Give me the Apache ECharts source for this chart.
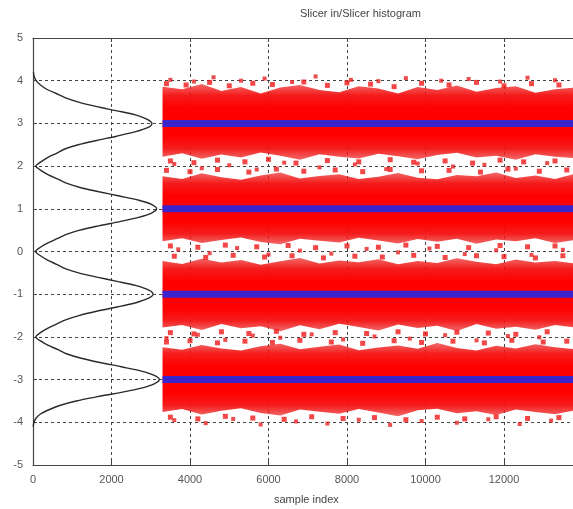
<!DOCTYPE html>
<html>
<head>
<meta charset="utf-8">
<script src="https://cdn.jsdelivr.net/npm/echarts@6/dist/echarts.min.js"></script>
<style>
  html, body { margin: 0; padding: 0; background: #fff; }
  #chart { width: 573px; height: 509px; }
</style>
</head>
<body>
<div id="chart"></div>
<script>
// symbol levels and where the received samples start
var levels = [3, 1, -1, -3];
var sampleStart = 3300;
var sampleEnd = 13800;

// band edges, read every 500 samples
var bandX = [3300, 3800, 4300, 4800, 5300, 5800, 6300, 6800, 7300, 7800, 8300,
             8800, 9300, 9800, 10300, 10800, 11300, 11800, 12300, 12800, 13300, 13800];
var band3Hi = [3.86, 3.8, 3.92, 3.76, 3.85, 3.7, 3.84, 3.9, 3.78, 3.73, 3.87, 3.82, 3.7, 3.85, 3.78, 3.89, 3.74, 3.83, 3.87, 3.72, 3.8, 3.84];
var band3Lo = [2.22, 2.3, 2.17, 2.27, 2.2, 2.32, 2.24, 2.15, 2.28, 2.22, 2.18, 2.29, 2.23, 2.16, 2.26, 2.31, 2.2, 2.24, 2.15, 2.28, 2.22, 2.19];
var band1Hi = [1.76, 1.7, 1.83, 1.74, 1.68, 1.78, 1.85, 1.71, 1.77, 1.81, 1.7, 1.75, 1.84, 1.73, 1.69, 1.79, 1.76, 1.85, 1.72, 1.78, 1.7, 1.82];
var band1Lo = [0.24, 0.31, 0.2, 0.27, 0.33, 0.22, 0.17, 0.3, 0.25, 0.21, 0.32, 0.26, 0.19, 0.29, 0.23, 0.3, 0.18, 0.28, 0.24, 0.31, 0.2, 0.27];
var bandM1Hi = [-0.22, -0.29, -0.17, -0.26, -0.2, -0.31, -0.23, -0.15, -0.28, -0.21, -0.25, -0.18, -0.3, -0.22, -0.27, -0.16, -0.24, -0.3, -0.19, -0.26, -0.22, -0.28];
var bandM1Lo = [-1.78, -1.72, -1.84, -1.7, -1.8, -1.75, -1.87, -1.73, -1.82, -1.69, -1.77, -1.85, -1.71, -1.79, -1.74, -1.86, -1.7, -1.81, -1.76, -1.83, -1.72, -1.78];
var bandM3Hi = [-2.24, -2.3, -2.19, -2.27, -2.32, -2.22, -2.16, -2.29, -2.23, -2.18, -2.31, -2.25, -2.2, -2.28, -2.14, -2.26, -2.32, -2.21, -2.27, -2.17, -2.24, -2.29];
var bandM3Lo = [-3.76, -3.69, -3.82, -3.73, -3.67, -3.78, -3.84, -3.7, -3.75, -3.8, -3.69, -3.77, -3.86, -3.72, -3.68, -3.79, -3.74, -3.83, -3.7, -3.76, -3.81, -3.72];

// stray samples between the bands
var strays = [
  [3500, 4.02], [4100, 3.98], [4600, 4.08], [5300, 4.0], [5900, 4.05], [6600, 3.97], [7200, 4.1], [8100, 4.02],
  [8800, 3.99], [9500, 4.06], [10400, 4.0], [11100, 4.04], [11900, 3.98], [12600, 4.07], [13300, 4.01],
  [3600, 2.05], [4300, 1.95], [5000, 2.02], [5700, 1.92], [6400, 2.08], [7300, 1.97], [8200, 2.04], [9000, 1.93],
  [9800, 2.06], [10700, 1.99], [11500, 2.03], [12300, 1.94], [13100, 2.07],
  [3700, 0.05], [4500, -0.04], [5200, 0.08], [6000, -0.07], [6800, 0.02], [7600, -0.05], [8500, 0.06], [9300, -0.02],
  [10100, 0.07], [11000, -0.06], [11800, 0.03], [12700, -0.08], [13500, 0.04],
  [3400, -2.03], [4200, -1.95], [4900, -2.07], [5600, -1.97], [6300, -2.02], [7100, -1.94], [7900, -2.06], [8700, -1.99],
  [9600, -2.04], [10500, -1.96], [11300, -2.08], [12100, -1.98], [12900, -2.01],
  [3600, -3.95], [4400, -4.02], [5100, -3.92], [5800, -4.05], [6700, -3.98], [7500, -4.03], [8300, -3.94], [9100, -4.06],
  [9900, -3.97], [10800, -4.01], [11600, -3.93], [12400, -4.04], [13200, -3.96]
];

// samples just outside the band edges
var edgeSamples = [
  [3400, 3.93], [3900, 3.9], [4500, 3.96], [5000, 3.88], [5600, 3.94], [6100, 3.91], [6900, 3.97], [7500, 3.89],
  [8000, 3.95], [8600, 3.92], [9200, 3.86], [9900, 3.94], [10600, 3.9], [11300, 3.96], [12000, 3.88], [12700, 3.93], [13400, 3.9],
  [3500, 2.12], [4100, 2.08], [4700, 2.14], [5400, 2.1], [6000, 2.16], [6700, 2.07], [7500, 2.13], [8300, 2.1],
  [9100, 2.15], [9700, 2.09], [10500, 2.12], [11200, 2.07], [11900, 2.14], [12500, 2.1], [13300, 2.12],
  [3400, 1.9], [4000, 1.87], [4700, 1.92], [5500, 1.86], [6200, 1.93], [6900, 1.88], [7700, 1.91], [8400, 1.87],
  [9100, 1.92], [9900, 1.89], [10600, 1.9], [11400, 1.86], [12100, 1.93], [12900, 1.88], [13600, 1.91],
  [3500, 0.13], [4200, 0.1], [4900, 0.15], [5700, 0.11], [6500, 0.14], [7200, 0.09], [8000, 0.13], [8800, 0.1],
  [9500, 0.15], [10300, 0.12], [11100, 0.09], [11900, 0.14], [12600, 0.11], [13300, 0.13],
  [3600, -0.11], [4400, -0.14], [5100, -0.09], [5900, -0.13], [6600, -0.1], [7400, -0.15], [8200, -0.11], [8900, -0.13],
  [9700, -0.09], [10500, -0.14], [11300, -0.1], [12000, -0.12], [12800, -0.15], [13500, -0.1],
  [3500, -1.9], [4100, -1.93], [4800, -1.88], [5500, -1.92], [6200, -1.87], [6900, -1.94], [7700, -1.9], [8500, -1.92],
  [9300, -1.88], [10000, -1.93], [10800, -1.89], [11600, -1.91], [12300, -1.94], [13100, -1.88],
  [3400, -2.12], [4000, -2.09], [4700, -2.14], [5400, -2.1], [6100, -2.13], [6800, -2.08], [7600, -2.12], [8400, -2.15],
  [9200, -2.09], [9900, -2.13], [10700, -2.1], [11500, -2.14], [12200, -2.08], [13000, -2.12], [13600, -2.1],
  [3500, -3.88], [4200, -3.92], [4900, -3.86], [5600, -3.9], [6400, -3.93], [7100, -3.87], [7900, -3.91], [8700, -3.89],
  [9500, -3.94], [10300, -3.88], [11000, -3.92], [11800, -3.87], [12600, -3.91], [13400, -3.89]
];

// slicer input histogram: amplitude and count
var histY = [4.2, 4.1, 4.0, 3.9, 3.8, 3.7, 3.6, 3.5, 3.4, 3.3, 3.2, 3.1, 3.0, 2.9, 2.8, 2.7, 2.6, 2.5, 2.4, 2.3, 2.2, 2.1, 2.0,
             1.9, 1.8, 1.7, 1.6, 1.5, 1.4, 1.3, 1.2, 1.1, 1.0, 0.9, 0.8, 0.7, 0.6, 0.5, 0.4, 0.3, 0.2, 0.1, 0.0,
             -0.1, -0.2, -0.3, -0.4, -0.5, -0.6, -0.7, -0.8, -0.9, -1.0, -1.1, -1.2, -1.3, -1.4, -1.5, -1.6, -1.7, -1.8, -1.9, -2.0,
             -2.1, -2.2, -2.3, -2.4, -2.5, -2.6, -2.7, -2.8, -2.9, -3.0, -3.1, -3.2, -3.3, -3.4, -3.5, -3.6, -3.7, -3.8, -3.9, -4.0, -4.1];
var histCount = [10, 30, 80, 190, 350, 590, 830, 1160, 1600, 2110, 2610, 2900, 3030, 2920, 2590, 2130, 1620, 1150, 810, 600, 370, 200, 70,
                 200, 380, 620, 850, 1200, 1680, 2200, 2700, 3030, 3150, 3020, 2690, 2210, 1670, 1190, 850, 610, 380, 190, 65,
                 190, 370, 600, 820, 1160, 1630, 2140, 2630, 2940, 3060, 2930, 2620, 2150, 1620, 1170, 830, 600, 370, 190, 70,
                 200, 390, 640, 870, 1230, 1710, 2250, 2760, 3090, 3220, 3090, 2760, 2250, 1650, 1100, 700, 420, 200, 80, 25, 5];

var yTicks = [-5, -4, -3, -2, -1, 0, 1, 2, 3, 4, 5];

var bands = [
  [band3Hi, band3Lo],
  [band1Hi, band1Lo],
  [bandM1Hi, bandM1Lo],
  [bandM3Hi, bandM3Lo]
];

var labelFont = { color: '#555', fontSize: 11, fontFamily: 'Liberation Sans' };
var gridLine = { show: true, lineStyle: { color: '#444', type: [3, 3], width: 1 } };
var axisLine = { show: true, onZero: false, lineStyle: { color: '#444', width: 1.2 } };

var chart = echarts.init(document.getElementById('chart'), null, { renderer: 'canvas' });

var bandFill = new echarts.graphic.LinearGradient(0, 0, 0, 1, [
  { offset: 0, color: 'rgba(236,40,40,0.7)' },
  { offset: 0.15, color: 'rgba(245,15,15,0.95)' },
  { offset: 0.32, color: '#ff0000' },
  { offset: 0.68, color: '#ff0000' },
  { offset: 0.85, color: 'rgba(245,15,15,0.95)' },
  { offset: 1, color: 'rgba(236,40,40,0.7)' }
]);

function bandSeries(hi, lo) {
  return {
    type: 'custom',
    clip: true,
    z: 2,
    encode: { x: 0, y: [1, 2] },
    data: bandX.map(function (x, i) { return [x, lo[i], hi[i]]; }),
    renderItem: function (params, api) {
      if (params.dataIndex !== 0) return null;
      var pts = [];
      for (var i = 0; i < bandX.length; i++) pts.push(api.coord([bandX[i], hi[i]]));
      for (var j = bandX.length - 1; j >= 0; j--) pts.push(api.coord([bandX[j], lo[j]]));
      return {
        type: 'polygon',
        shape: { points: pts },
        style: { fill: bandFill }
      };
    }
  };
}

var series = [];
series.push({
  type: 'line',
  data: histY.map(function (y, i) { return [histCount[i], y]; }),
  symbol: 'none',
  smooth: 0.3,
  lineStyle: { color: '#2a2a2a', width: 1.4 },
  z: 3
});
bands.forEach(function (b) { series.push(bandSeries(b[0], b[1])); });
series.push({
  type: 'scatter',
  data: strays,
  symbol: 'rect',
  symbolSize: 4,
  itemStyle: { color: '#e52020' },
  z: 2
});
series.push({
  type: 'scatter',
  data: edgeSamples,
  symbol: 'rect',
  symbolSize: 5,
  itemStyle: { color: '#f01818' },
  z: 2
});
levels.forEach(function (lv) {
  series.push({
    type: 'line',
    data: [[sampleStart, lv], [sampleEnd, lv]],
    symbol: 'none',
    lineStyle: { color: '#3a22cc', width: 7 },
    z: 4
  });
});

chart.setOption({
  animation: false,
  backgroundColor: '#fff',
  grid: { left: 33, right: 0, top: 38, bottom: 44 },
  xAxis: [{
    type: 'value',
    min: 0,
    max: 13758,
    interval: 2000,
    axisLine: axisLine,
    axisTick: { show: true, inside: true, length: 4, lineStyle: { color: '#444' } },
    axisLabel: Object.assign({ margin: 9, showMaxLabel: false, formatter: function (v) { return String(v); } }, labelFont),
    splitLine: gridLine
  }, {
    type: 'value',
    position: 'top',
    min: 0,
    max: 13758,
    interval: 2000,
    axisLine: axisLine,
    axisTick: { show: true, inside: true, length: 4, lineStyle: { color: '#444' } },
    axisLabel: { show: false },
    splitLine: { show: false }
  }],
  yAxis: {
    type: 'value',
    min: yTicks[0],
    max: yTicks[yTicks.length - 1],
    interval: 1,
    axisLine: axisLine,
    axisTick: { show: true, inside: true, length: 4, lineStyle: { color: '#444' } },
    axisLabel: Object.assign({ margin: 10 }, labelFont),
    splitLine: gridLine
  },
  graphic: [{
    type: 'text',
    left: 300,
    top: 8,
    style: { text: 'Slicer in/Slicer histogram', fill: '#444', font: '11px "Liberation Sans"', textAlign: 'center' }
  }, {
    type: 'text',
    left: 274,
    top: 494,
    style: { text: 'sample index', fill: '#444', font: '11px "Liberation Sans"', textAlign: 'center' }
  }],
  series: series
});
</script>
</body>
</html>
